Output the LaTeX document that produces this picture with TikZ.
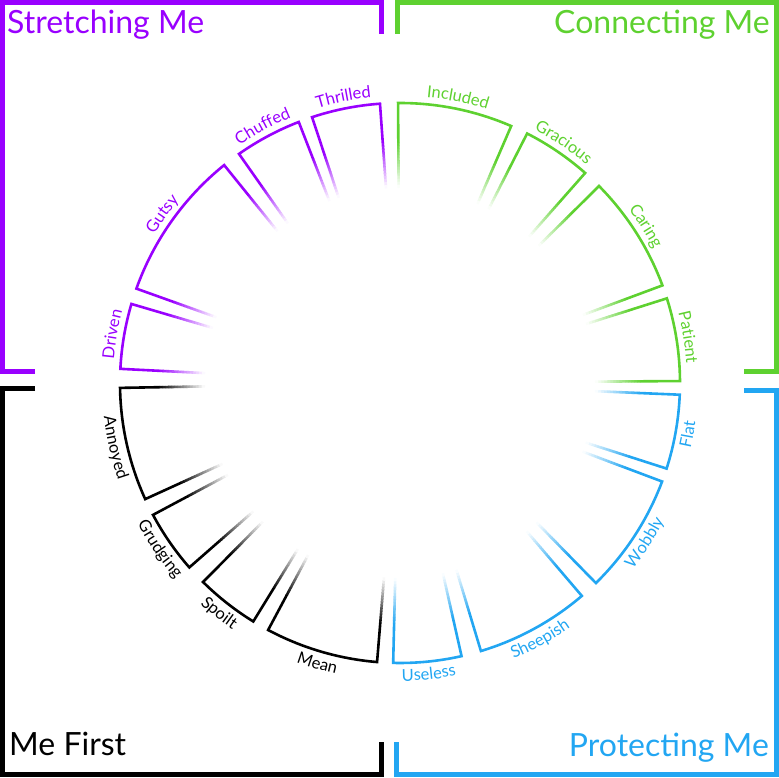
\documentclass[tikz,border=0pt]{standalone}
\usepackage{fontspec}
\setmainfont{Lato}
\usetikzlibrary{decorations.text}
\definecolor{stretch}{HTML}{9900FF}
\definecolor{connect}{HTML}{5ED130}
\definecolor{protect}{HTML}{22A6F2}
\definecolor{mefirst}{HTML}{000000}
\newcommand\titlefont{\fontsize{32}{37}\selectfont}
\newcommand\labelfont{\fontsize{16.5}{19}\selectfont}
\tikzset{rim/.style={line width=2.6pt,line join=miter},
 fadeseg/.style={line width=2.6pt},
 frame/.style={line width=5pt,line join=miter},
 head/.style={font=\titlefont,inner sep=0pt}}
% one wedge of the wheel: ccw angle, cw angle, colour
\newcommand\petal[3]{%
 \draw[rim,#3](#1:240)--(#1:280) arc[start angle=#1,end angle=#2,radius=280]--(#2:240);
 \foreach \e in {#1,#2}{\foreach \k in {1,...,15}{%
  \pgfmathsetmacro\ra{240-3*\k}\pgfmathsetmacro\rb{\ra+3.4}\pgfmathsetmacro\pct{100-6.5*\k}%
  \draw[fadeseg,#3!\pct!white](\e:\ra)--(\e:\rb);}}}
\newcommand\cwlabel[4]{\path[decorate,decoration={text along path,text align=center,
 text={|\labelfont\color{#3}|#4}}](#1:287) arc[start angle=#1,end angle=#2,radius=287];}
\newcommand\ccwlabel[4]{\path[decorate,decoration={text along path,text align=center,
 text={|\labelfont\color{#3}|#4}}](#2:298) arc[start angle=#2,end angle=#1,radius=298];}
\begin{document}
\begin{tikzpicture}[x=1pt,y=1pt]
\useasboundingbox (0,0) rectangle (779,777);
% corner frames
\draw[frame,stretch](381.5,743)--(381.5,774.5)--(2.5,774.5)--(2.5,405.5)--(35,405.5);
\draw[frame,connect](397.5,743)--(397.5,774.5)--(776.5,774.5)--(776.5,405.5)--(744,405.5);
\draw[frame,mefirst](35,388.5)--(2.5,388.5)--(2.5,2.5)--(381.5,2.5)--(381.5,35);
\draw[frame,protect](744,386.5)--(776.5,386.5)--(776.5,2.5)--(396.5,2.5)--(396.5,35);
\node[head,text=stretch,anchor=base west](stretchhead) at (7,743.5){Stretching Me};
\node[head,text=connect,anchor=base east](connecthead) at (770,743){Connecting Me};
\node[head,text=mefirst,anchor=base west](mefirsthead) at (9,22){Me First};
\node[head,text=protect,anchor=base east](protecthead) at (769,21){Protecting Me};
% the wheel
\begin{scope}[shift={(400,394)}]
\petal{90.4}{66.6}{connect}\cwlabel{90.4}{66.6}{connect}{Included}
\petal{63}{48.6}{connect}\cwlabel{63}{48.6}{connect}{Gracious}
\petal{44.7}{20.4}{connect}\cwlabel{44.7}{20.4}{connect}{Caring}
\petal{17.6}{0.4}{connect}\cwlabel{17.6}{0.4}{connect}{Patient}
\petal{-2.4}{-17.8}{protect}\ccwlabel{-2.4}{-17.8}{protect}{Flat}
\petal{-20.6}{-45.6}{protect}\ccwlabel{-20.6}{-45.6}{protect}{Wobbly}
\petal{-49.5}{-73.2}{protect}\ccwlabel{-49.5}{-73.2}{protect}{Sheepish}
\petal{-77.3}{-91.4}{protect}\ccwlabel{-77.3}{-91.4}{protect}{Useless}
\petal{-94.7}{-118.1}{mefirst}\ccwlabel{-94.7}{-118.1}{mefirst}{Mean}
\petal{-121.6}{-134.7}{mefirst}\ccwlabel{-121.6}{-134.7}{mefirst}{Spoilt}
\petal{-138.8}{-151.9}{mefirst}\ccwlabel{-138.8}{-151.9}{mefirst}{Grudging}
\petal{-155.5}{-179}{mefirst}\ccwlabel{-155.5}{-179}{mefirst}{Annoyed}
\petal{177.1}{163.6}{stretch}\cwlabel{177.1}{163.6}{stretch}{Driven}
\petal{160.3}{128.9}{stretch}\cwlabel{160.3}{128.9}{stretch}{Gutsy}
\petal{125.1}{111.2}{stretch}\cwlabel{125.1}{111.2}{stretch}{Chuffed}
\petal{108.3}{94.1}{stretch}\cwlabel{108.3}{94.1}{stretch}{Thrilled}
\end{scope}
\end{tikzpicture}
\end{document}
